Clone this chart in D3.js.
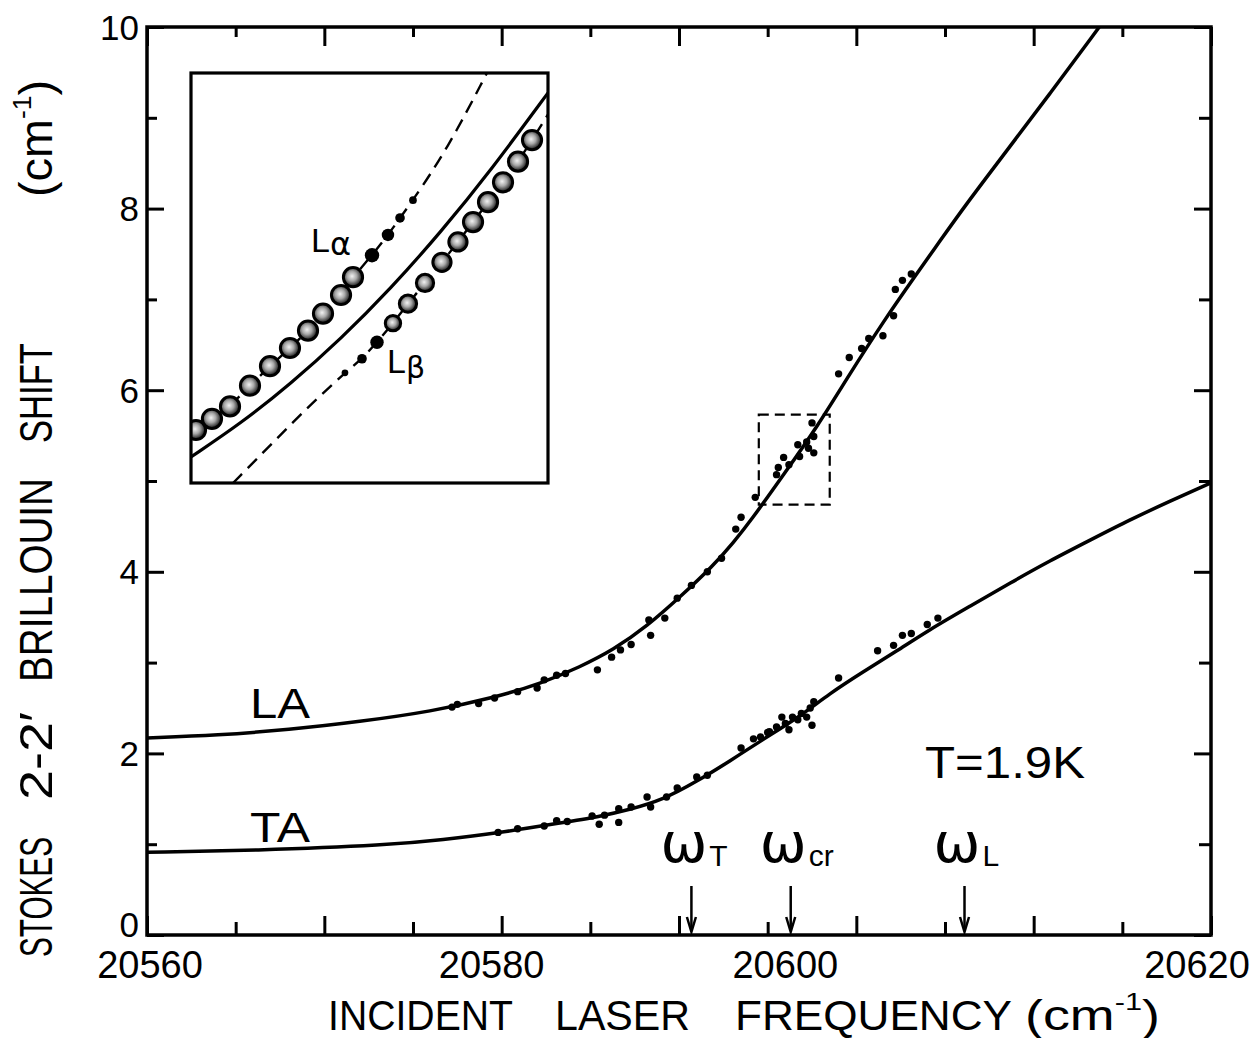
<!DOCTYPE html>
<html><head><meta charset="utf-8">
<script src="https://cdn.jsdelivr.net/npm/d3@7"></script>
<style>html,body{margin:0;padding:0;background:#fff;}svg{display:block;}</style>
</head><body>
<svg id="chart" width="1260" height="1038"></svg>
<script>
// ---------------- DATA ----------------
const xDomain = [20560, 20620];
const yDomain = [0, 10];
const xTickLabels = [20560, 20580, 20600, 20620];
const yTickLabels = [0, 2, 4, 6, 8, 10];

// LA branch: fitted curve and measured points (x: cm^-1, y: shift cm^-1)
const laCurve = [[20560,2.17],[20564,2.20],[20568,2.26],[20572,2.35],[20576,2.46],[20579.7,2.62],[20582.2,2.77],[20584.4,2.95],[20586.3,3.14],[20588.2,3.40],[20590.1,3.73],[20591.9,4.06],[20593.1,4.33],[20594.0,4.55],[20595.9,5.07],[20597.8,5.60],[20599.6,6.17],[20601.5,6.75],[20603.4,7.28],[20604.7,7.64],[20606.2,8.05],[20608.1,8.54],[20610.9,9.26],[20613.7,10.0]];
const laPoints = [[20577.2,2.51],[20577.5,2.54],[20578.7,2.55],[20579.6,2.61],[20580.9,2.68],[20582.0,2.72],[20582.4,2.81],[20583.1,2.86],[20583.6,2.88],[20585.4,2.92],[20586.2,3.06],[20586.7,3.14],[20587.3,3.20],[20588.3,3.47],[20588.4,3.30],[20589.2,3.49],[20589.9,3.71],[20590.7,3.85],[20591.6,4.00],[20592.4,4.15],[20593.2,4.47],[20593.5,4.60],[20594.3,4.82],[20595.5,5.07],[20595.6,5.15],[20595.9,5.26],[20596.2,5.18],[20596.7,5.40],[20596.8,5.27],[20597.2,5.43],[20597.3,5.36],[20597.6,5.49],[20597.6,5.31],[20597.5,5.64],[20599.0,6.18],[20599.6,6.36],[20600.3,6.46],[20600.7,6.57],[20601.5,6.60],[20602.1,6.82],[20602.2,7.11],[20602.6,7.21],[20603.1,7.28]];

// TA branch
const taCurve = [[20560,0.91],[20566,0.93],[20573.7,0.99],[20576.7,1.05],[20579.7,1.12],[20583.5,1.24],[20585.4,1.30],[20587.2,1.38],[20589.1,1.49],[20591.0,1.69],[20592.9,1.92],[20594.7,2.15],[20596.7,2.39],[20598.5,2.66],[20600.4,2.90],[20602.3,3.13],[20604.1,3.36],[20606.4,3.62],[20608.7,3.88],[20610.9,4.12],[20613.2,4.35],[20615.4,4.57],[20617.7,4.78],[20620,4.98]];
const taPoints = [[20579.8,1.13],[20580.9,1.17],[20582.4,1.20],[20583.1,1.26],[20583.7,1.25],[20585.1,1.31],[20585.5,1.22],[20585.8,1.32],[20586.6,1.39],[20586.6,1.24],[20587.3,1.41],[20588.2,1.52],[20588.4,1.41],[20589.3,1.52],[20589.9,1.62],[20591.0,1.74],[20591.6,1.76],[20593.5,2.06],[20594.2,2.16],[20594.6,2.18],[20595.0,2.23],[20595.1,2.24],[20595.5,2.29],[20595.8,2.40],[20596.0,2.33],[20596.2,2.26],[20596.4,2.40],[20596.7,2.37],[20596.9,2.44],[20597.2,2.40],[20597.4,2.50],[20597.5,2.31],[20597.6,2.57],[20599.0,2.83],[20601.2,3.13],[20602.1,3.19],[20602.6,3.30],[20603.1,3.32],[20604.0,3.42],[20604.6,3.49]];

// characteristic frequencies (arrows)
const omegaMarks = [["T",20590.7],["cr",20596.3],["L",20606.1]];

// magnified region (dashed box) = inset domain
const zoomX = [20594.5, 20598.5];
const zoomY = [4.74, 5.73];

// inset: solid curve, L-alpha and L-beta branches [x, y, relative intensity]
const insetSolid = [[20594.50,4.803],[20595.06,4.884],[20595.62,4.980],[20596.18,5.088],[20596.74,5.210],[20597.30,5.346],[20597.86,5.495],[20598.50,5.682]];
const lAlpha = [[20594.556,4.868,10],[20594.735,4.895,10],[20594.937,4.925,10],[20595.161,4.975,10],[20595.385,5.022,10],[20595.609,5.066,10],[20595.811,5.108,10],[20595.979,5.149,10],[20596.181,5.194,10],[20596.315,5.237,10],[20596.528,5.290,7.5],[20596.707,5.339,6.5],[20596.842,5.380,5],[20596.987,5.423,4]];
const lAlphaExt = [[20597.368,5.545],[20597.816,5.730]];
const lBeta = [[20596.225,5.006,3.5],[20596.416,5.040,5],[20596.584,5.080,7],[20596.763,5.126,8],[20596.931,5.173,9],[20597.122,5.223,9],[20597.312,5.273,9.5],[20597.491,5.322,9.5],[20597.660,5.370,10],[20597.828,5.418,10],[20597.996,5.466,10],[20598.164,5.516,10],[20598.321,5.568,10]];
const lBetaStart = [[20594.971,4.740],[20595.497,4.855],[20595.867,4.935]];
const lBetaEnd = [[20598.5,5.63]];

// ---------------- LAYOUT ----------------
const L = 147, R = 1211, T = 27, B = 935;
const svg = d3.select("#chart");
const x = d3.scaleLinear().domain(xDomain).range([L, R]);
const y = d3.scaleLinear().domain(yDomain).range([B, T]);
const ink = "#000";
const FONT = "'Liberation Sans', Arial, sans-serif";

const defs = svg.append("defs");
defs.append("clipPath").attr("id","plotClip").append("rect").attr("x",L).attr("y",T).attr("width",R-L).attr("height",B-T);
const grad = defs.append("radialGradient").attr("id","ball").attr("cx","45%").attr("cy","45%").attr("r","62%");
grad.append("stop").attr("offset","0%").attr("stop-color","#f2f2f2");
grad.append("stop").attr("offset","40%").attr("stop-color","#a8a8a8");
grad.append("stop").attr("offset","75%").attr("stop-color","#3a3a3a");
grad.append("stop").attr("offset","100%").attr("stop-color","#000");

// ticks via d3 axes (inward)
const minorX = d3.range(xDomain[0], xDomain[1]+0.01, 5).filter(v => v % 10 !== 0);
const majorX = d3.range(xDomain[0], xDomain[1]+0.01, 10);
const minorY = d3.range(1, 10, 2);
const majorY = d3.range(0, 10.01, 2);
function tickAxis(axis, tf) {
  const g = svg.append("g").attr("transform", tf).call(axis);
  g.select(".domain").remove();
  g.selectAll("text").remove();
  g.selectAll("line").attr("stroke", ink).attr("stroke-width", 3);
}
tickAxis(d3.axisBottom(x).tickValues(majorX).tickSize(-19), `translate(0,${B})`);
tickAxis(d3.axisBottom(x).tickValues(minorX).tickSize(-13), `translate(0,${B})`);
tickAxis(d3.axisTop(x).tickValues(majorX).tickSize(-19), `translate(0,${T})`);
tickAxis(d3.axisTop(x).tickValues(minorX).tickSize(-10), `translate(0,${T})`);
tickAxis(d3.axisLeft(y).tickValues(majorY).tickSize(-17), `translate(${L},0)`);
tickAxis(d3.axisLeft(y).tickValues(minorY).tickSize(-10), `translate(${L},0)`);
tickAxis(d3.axisRight(y).tickValues(majorY).tickSize(-17), `translate(${R},0)`);
tickAxis(d3.axisRight(y).tickValues(minorY).tickSize(-12), `translate(${R},0)`);

// frame
svg.append("rect").attr("x",L).attr("y",T).attr("width",R-L).attr("height",B-T)
  .attr("fill","none").attr("stroke",ink).attr("stroke-width",3.5);

// tick labels
const xLabelDx = [3, -10, -71, -14]; // label placement as in the original drawing
svg.append("g").selectAll("text").data(xTickLabels).join("text")
  .attr("x",(d,i)=>x(d)+xLabelDx[i]).attr("y",978)
  .attr("text-anchor","middle").attr("font-family",FONT).attr("font-size",38).attr("fill",ink)
  .text(d=>d);
svg.append("g").selectAll("text").data(yTickLabels).join("text")
  .attr("x",139).attr("y",d=>y(d)+(d===0?-11:0)).attr("dy","0.36em")
  .attr("text-anchor","end").attr("font-family",FONT).attr("font-size",35).attr("fill",ink)
  .text(d=>d);

// axis titles
const xTitleWords = [["INCIDENT",328,185],["LASER",555,135],["FREQUENCY",735,277]];
xTitleWords.forEach(([t,x0,len])=>{
  svg.append("text").attr("x",x0).attr("y",1030).attr("font-family",FONT).attr("font-size",42)
    .attr("fill",ink).attr("textLength",len).attr("lengthAdjust","spacingAndGlyphs").text(t);
});
const xu = svg.append("text").attr("x",1025).attr("y",1030).attr("font-family",FONT).attr("font-size",42).attr("fill",ink)
  .attr("textLength",135).attr("lengthAdjust","spacingAndGlyphs");
xu.append("tspan").text("(cm");
xu.append("tspan").attr("font-size",24).attr("dy",-20).text("-1");
xu.append("tspan").attr("dy",20).text(")");

const yTitle = svg.append("g").attr("transform","rotate(-90)");
const yTitleWords = [["STOKES",957,120],["2-2′",800,88],["BRILLOUIN",682,204],["SHIFT",443,100]];
yTitleWords.forEach(([t,y0,len])=>{
  yTitle.append("text").attr("x",-y0).attr("y",52).attr("font-family",FONT).attr("font-size",46)
    .attr("fill",ink).attr("textLength",len).attr("lengthAdjust","spacingAndGlyphs").text(t);
});
const yu = yTitle.append("text").attr("x",-197).attr("y",52).attr("font-family",FONT).attr("font-size",46).attr("fill",ink)
  .attr("textLength",117).attr("lengthAdjust","spacingAndGlyphs");
yu.append("tspan").text("(cm");
yu.append("tspan").attr("font-size",26).attr("dy",-21).text("-1");
yu.append("tspan").attr("dy",21).text(")");

// curves
const line = d3.line().x(d=>x(d[0])).y(d=>y(d[1])).curve(d3.curveBasis);
const plot = svg.append("g").attr("clip-path","url(#plotClip)");
[laCurve, taCurve].forEach(c=>{
  plot.append("path").attr("d",line(c)).attr("fill","none").attr("stroke",ink).attr("stroke-width",3.5).attr("stroke-linejoin","round");
});
plot.append("g").selectAll("circle").data(laPoints.concat(taPoints)).join("circle")
  .attr("cx",d=>x(d[0])).attr("cy",d=>y(d[1])).attr("r",3.7).attr("fill",ink);

// dashed magnified-region box
svg.append("rect").attr("x",x(zoomX[0])).attr("y",y(zoomY[1]))
  .attr("width",x(zoomX[1])-x(zoomX[0])).attr("height",y(zoomY[0])-y(zoomY[1]))
  .attr("fill","none").attr("stroke",ink).attr("stroke-width",2.2).attr("stroke-dasharray","10,6");

// branch labels
svg.append("text").attr("x",250).attr("y",718).attr("font-family",FONT).attr("font-size",42).attr("fill",ink)
  .attr("textLength",60).attr("lengthAdjust","spacingAndGlyphs").text("LA");
svg.append("text").attr("x",250).attr("y",842).attr("font-family",FONT).attr("font-size",42).attr("fill",ink)
  .attr("textLength",60).attr("lengthAdjust","spacingAndGlyphs").text("TA");
svg.append("text").attr("x",925).attr("y",778).attr("font-family",FONT).attr("font-size",44).attr("fill",ink)
  .attr("textLength",160).attr("lengthAdjust","spacingAndGlyphs").text("T=1.9K");

// omega arrows
omegaMarks.forEach(([sub,v])=>{
  const ax = x(v);
  svg.append("line").attr("x1",ax).attr("x2",ax).attr("y1",886).attr("y2",931).attr("stroke",ink).attr("stroke-width",2.5);
  svg.append("path").attr("d",`M${ax-4.5},${917} L${ax},${932} L${ax+4.5},${917}`).attr("fill","none").attr("stroke",ink).attr("stroke-width",2.5);
  const t = svg.append("text").attr("x",ax-31).attr("y",862).attr("font-family","'DejaVu Sans', sans-serif").attr("font-size",56).attr("fill",ink);
  t.append("tspan").text("ω");
  t.append("tspan").attr("font-family",FONT).attr("font-size",30).attr("dx",2).attr("dy",4).text(sub);
});

// ---------------- INSET ----------------
const IL = 191, IR = 548, IT = 73, IB = 483;
const ix = d3.scaleLinear().domain(zoomX).range([IL, IR]);
const iy = d3.scaleLinear().domain(zoomY).range([IB, IT]);
defs.append("clipPath").attr("id","insetClip").append("rect").attr("x",IL).attr("y",IT).attr("width",IR-IL).attr("height",IB-IT);
const inset = svg.append("g");
inset.append("rect").attr("x",IL).attr("y",IT).attr("width",IR-IL).attr("height",IB-IT).attr("fill","#fff");
const ig = inset.append("g").attr("clip-path","url(#insetClip)");
const iline = d3.line().x(d=>ix(d[0])).y(d=>iy(d[1])).curve(d3.curveBasis);
ig.append("path").attr("d",iline(insetSolid)).attr("fill","none").attr("stroke",ink).attr("stroke-width",3.2);
ig.append("path").attr("d",iline(lAlpha.map(d=>[d[0],d[1]]).concat(lAlphaExt))).attr("fill","none")
  .attr("stroke",ink).attr("stroke-width",2.4).attr("stroke-dasharray","13,8");
ig.append("path").attr("d",iline(lBetaStart.concat(lBeta.map(d=>[d[0],d[1]]),lBetaEnd))).attr("fill","none")
  .attr("stroke",ink).attr("stroke-width",2.4).attr("stroke-dasharray","13,8");
const rScale = d3.scaleLinear().domain([0,10]).range([0,9.6]);
ig.append("g").selectAll("circle").data(lAlpha.concat(lBeta)).join("circle")
  .attr("cx",d=>ix(d[0])).attr("cy",d=>iy(d[1])).attr("r",d=>rScale(d[2]))
  .attr("fill",d=>d[2]>=8?"url(#ball)":ink).attr("stroke",ink).attr("stroke-width",d=>d[2]>=8?3:0);
inset.append("rect").attr("x",IL).attr("y",IT).attr("width",IR-IL).attr("height",IB-IT)
  .attr("fill","none").attr("stroke",ink).attr("stroke-width",3.2);
// inset labels
const la = inset.append("text").attr("x",311).attr("y",252).attr("font-family",FONT).attr("font-size",34).attr("fill",ink);
la.append("tspan").text("L");
la.append("tspan").attr("font-family","'DejaVu Sans', sans-serif").attr("font-size",32).attr("dy",3).text("α");
const lb = inset.append("text").attr("x",387).attr("y",373).attr("font-family",FONT).attr("font-size",34).attr("fill",ink);
lb.append("tspan").text("L");
lb.append("tspan").attr("font-family","'DejaVu Sans', sans-serif").attr("font-size",30).attr("dy",5).text("β");
</script>
</body></html>
